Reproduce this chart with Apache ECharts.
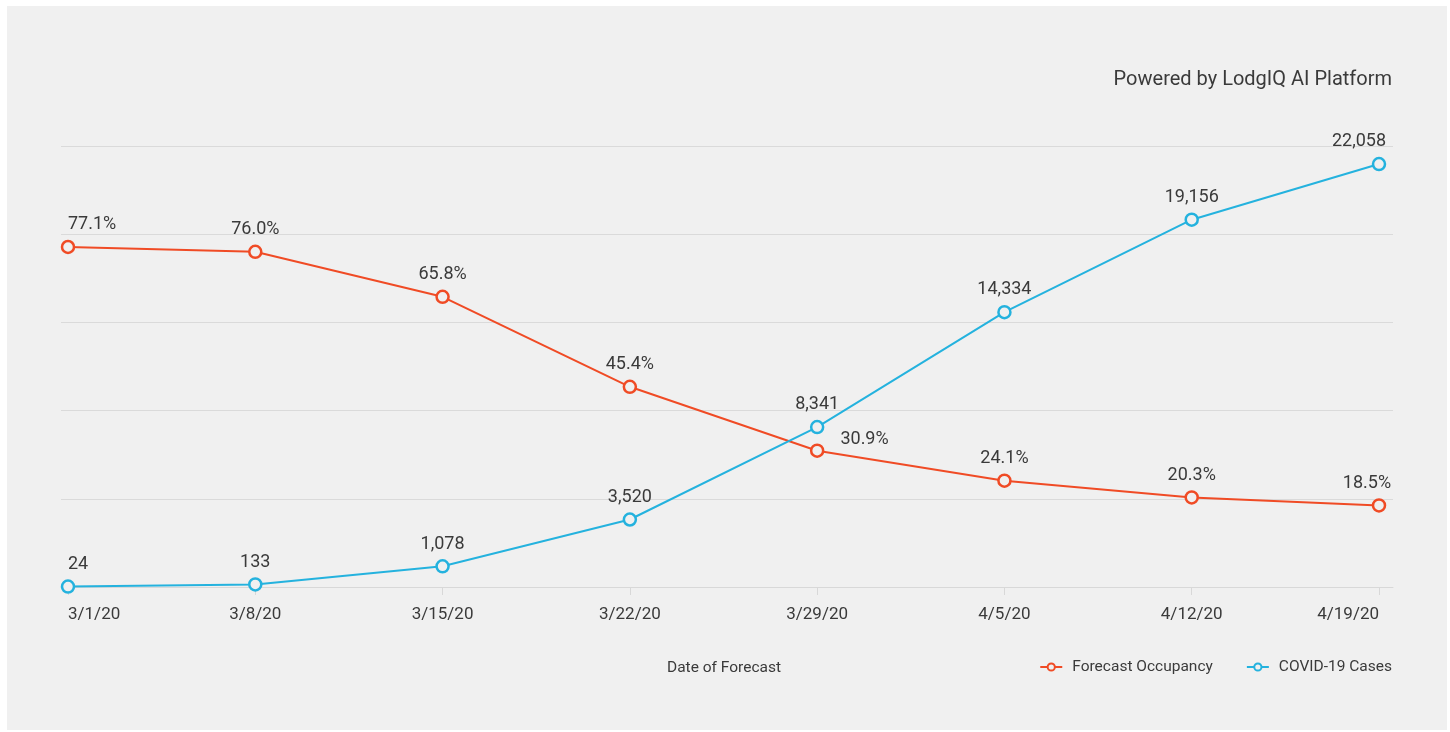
<!DOCTYPE html>
<html>
<head>
<meta charset="utf-8">
<script src="https://cdn.jsdelivr.net/npm/echarts@6/dist/echarts.min.js"></script>
<style>
  html, body { margin: 0; padding: 0; background: #ffffff; }
  #panel { position: absolute; left: 7px; top: 6px; width: 1440px; height: 724px; background: #f0f0f0; }
  #chart { position: absolute; left: 0; top: 0; width: 1450px; height: 732px; }
</style>
</head>
<body>
<div id="panel"></div>
<div id="chart"></div>
<script>
var categories = ['3/1/20', '3/8/20', '3/15/20', '3/22/20', '3/29/20', '4/5/20', '4/12/20', '4/19/20'];
var occupancy = [77.1, 76.0, 65.8, 45.4, 30.9, 24.1, 20.3, 18.5];
var cases = [24, 133, 1078, 3520, 8341, 14334, 19156, 22058];
var seriesNames = ['Forecast Occupancy', 'COVID-19 Cases'];
var titleText = 'Powered by LodgIQ AI Platform';
var axisTitle = 'Date of Forecast';

var ORANGE = '#f04b25';
var BLUE = '#24b2de';
var TEXT = '#3a3a3a';
var FONT = 'Roboto, "Noto Sans", sans-serif';

function labelFor(i, n, kind) {
  var lab = {};
  if (i === 0) { lab.align = 'left'; }
  if (i === n - 1) { lab.offset = kind === 'occ' ? [-12, 0] : [-20, 0]; }
  if (kind === 'occ' && i === 4) {
    lab.position = 'right';
    lab.distance = 16;
    lab.offset = [0, -11];
  }
  return lab;
}

var occData = occupancy.map(function (v, i) {
  return { value: v, label: labelFor(i, occupancy.length, 'occ') };
});
var caseData = cases.map(function (v, i) {
  return { value: v, label: labelFor(i, cases.length, 'case') };
});

var chart = echarts.init(document.getElementById('chart'), null, { renderer: 'canvas' });

chart.setOption({
  backgroundColor: 'transparent',
  animation: false,
  textStyle: { fontFamily: FONT },
  grid: [
    { left: 61, right: 57, top: 146, bottom: 145 },
    { left: 68, right: 71, top: 146, bottom: 145 }
  ],
  xAxis: [
    {
      type: 'value', gridIndex: 0, min: 0, max: 1,
      axisLine: { show: true, lineStyle: { color: '#d8d8d8', width: 1 } },
      axisTick: { show: false }, axisLabel: { show: false }, splitLine: { show: false }
    },
    {
      type: 'category', gridIndex: 1, data: categories, boundaryGap: false,
      axisLine: { show: false },
      axisTick: { show: true, length: 8, lineStyle: { color: '#d8d8d8' } },
      axisLabel: {
        color: TEXT, fontSize: 17, fontFamily: FONT, margin: 19,
        alignMinLabel: 'left', alignMaxLabel: 'right'
      },
      splitLine: { show: false }
    }
  ],
  yAxis: [
    {
      type: 'value', gridIndex: 0, min: 0, max: 100, interval: 20,
      axisLine: { show: false }, axisTick: { show: false }, axisLabel: { show: false },
      splitLine: { show: true, lineStyle: { color: '#dadada', width: 1 } }
    },
    {
      type: 'value', gridIndex: 1, min: 0, max: 100,
      show: false, splitLine: { show: false }
    },
    {
      type: 'value', gridIndex: 1, min: 0, max: 23000,
      show: false, splitLine: { show: false }
    }
  ],
  legend: {
    right: 58, top: 659, padding: 0,
    itemWidth: 22, itemHeight: 9, itemGap: 33,
    textStyle: { color: TEXT, fontSize: 15.5, fontFamily: FONT, padding: [0, 0, 0, 5] },
    data: seriesNames
  },
  graphic: [
    {
      type: 'text', right: 58, top: 70,
      style: { text: titleText, fill: TEXT, font: '20px ' + FONT }
    },
    {
      type: 'text', left: 667, top: 660,
      style: { text: axisTitle, fill: TEXT, font: '15.5px ' + FONT }
    }
  ],
  series: [
    {
      name: seriesNames[0], type: 'line', xAxisIndex: 1, yAxisIndex: 1,
      data: occData,
      symbol: 'circle', symbolSize: 12,
      lineStyle: { color: ORANGE, width: 2 },
      itemStyle: { color: '#f0f0f0', borderColor: ORANGE, borderWidth: 2.5 },
      label: {
        show: true, position: 'top', distance: 6, color: TEXT, fontSize: 18, fontFamily: FONT,
        formatter: function (p) { return p.value.toFixed(1) + '%'; }
      },
      z: 3
    },
    {
      name: seriesNames[1], type: 'line', xAxisIndex: 1, yAxisIndex: 2,
      data: caseData,
      symbol: 'circle', symbolSize: 12,
      lineStyle: { color: BLUE, width: 2 },
      itemStyle: { color: '#f0f0f0', borderColor: BLUE, borderWidth: 2.5 },
      label: {
        show: true, position: 'top', distance: 6, color: TEXT, fontSize: 18, fontFamily: FONT,
        formatter: function (p) { return p.value.toLocaleString('en-US'); }
      },
      z: 4
    }
  ]
});
</script>
</body>
</html>
